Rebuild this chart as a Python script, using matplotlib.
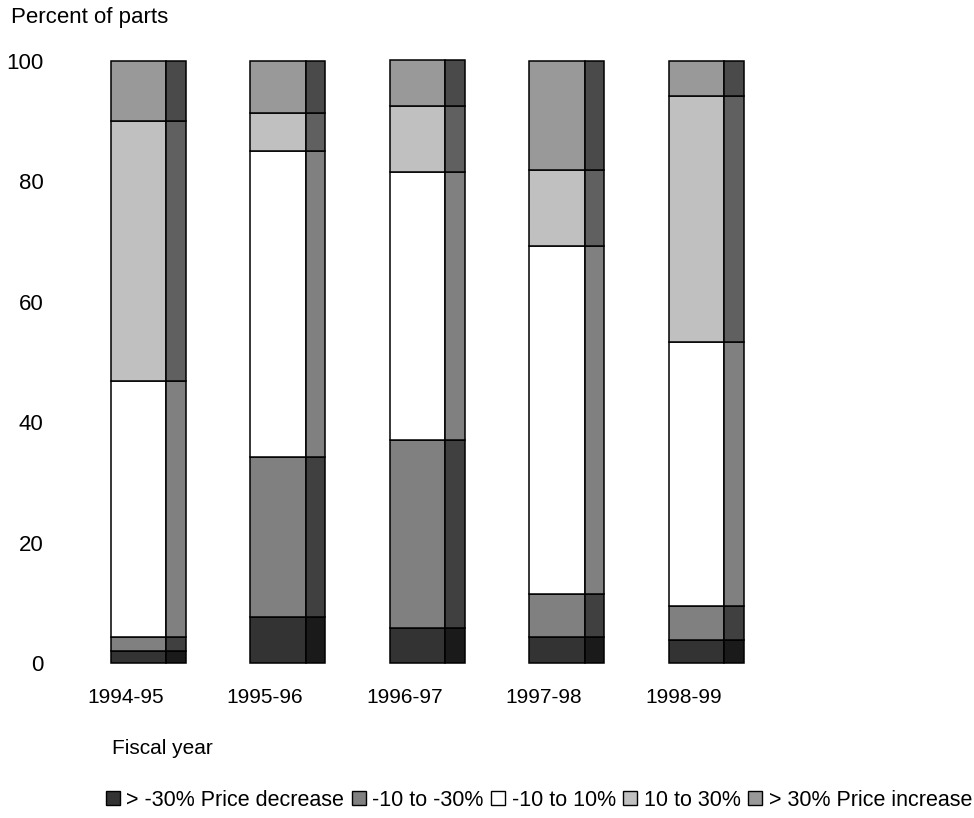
import numpy as np
import matplotlib.pyplot as plt
from matplotlib.patches import Patch

plt.rcParams['font.family'] = ['Liberation Sans', 'DejaVu Sans']

years = ['1994-95', '1995-96', '1996-97', '1997-98', '1998-99']
labels = ['> -30% Price decrease', '-10 to -30%', '-10 to 10%', '10 to 30%', '> 30% Price increase']

# percent of parts in each price change band
dec_big = [2.0, 7.6, 5.8, 4.3, 3.8]
dec_mid = [2.3, 26.6, 31.2, 7.2, 5.7]
flat = [42.6, 50.8, 44.6, 57.8, 43.8]
inc_mid = [43.1, 6.4, 11.0, 12.6, 40.9]
inc_big = [10.0, 8.6, 7.6, 18.1, 5.8]

series = [dec_big, dec_mid, flat, inc_mid, inc_big]
front_cols = ['#333333', '#808080', '#ffffff', '#c0c0c0', '#999999']
side_cols = ['#1a1a1a', '#404040', '#808080', '#606060', '#4a4a4a']

fig = plt.figure(figsize=(9.74, 8.18), dpi=100)
ax = fig.add_axes([60 / 974, 155 / 818, 740 / 974, 602 / 818])

x = np.arange(len(years))
front_w = 0.395
side_w = 0.143
bottom = np.zeros(len(years))
for vals, fc, sc in zip(series, front_cols, side_cols):
    vals = np.array(vals)
    ax.bar(x - front_w / 2, vals, width=front_w, bottom=bottom, align='edge',
           color=fc, edgecolor='black', linewidth=1.1, clip_on=False)
    ax.bar(x + front_w / 2, vals, width=side_w, bottom=bottom, align='edge',
           color=sc, edgecolor='black', linewidth=1.1, clip_on=False)
    bottom += vals

ax.set_xlim((60 - 138.5) / 139.5, (800 - 138.5) / 139.5)
ax.set_ylim(0, 100)
ax.set_yticks(range(0, 101, 20))
ax.set_xticks(x - 0.095)
ax.set_xticklabels(years)
ax.tick_params(axis='x', length=0, labelsize=15, pad=18)
ax.tick_params(axis='y', length=0, labelsize=16, pad=12)
for s in ax.spines.values():
    s.set_visible(False)

fig.text(11 / 974, 1 - 18 / 818, 'Percent of parts', fontsize=16, va='center', ha='left')
fig.text(112 / 974, 1 - 748 / 818, 'Fiscal year', fontsize=15, va='center', ha='left')

handles = [Patch(facecolor=c, edgecolor='black', linewidth=1) for c in front_cols]
fig.legend(handles, labels, loc='center', bbox_to_anchor=(539 / 974, 1 - 800 / 818),
           ncol=5, frameon=False, fontsize=15.5, handlelength=0.65, handleheight=0.65,
           handletextpad=0.3, columnspacing=0.35, borderpad=0, borderaxespad=0)

fig.savefig('out.png', dpi=100)
